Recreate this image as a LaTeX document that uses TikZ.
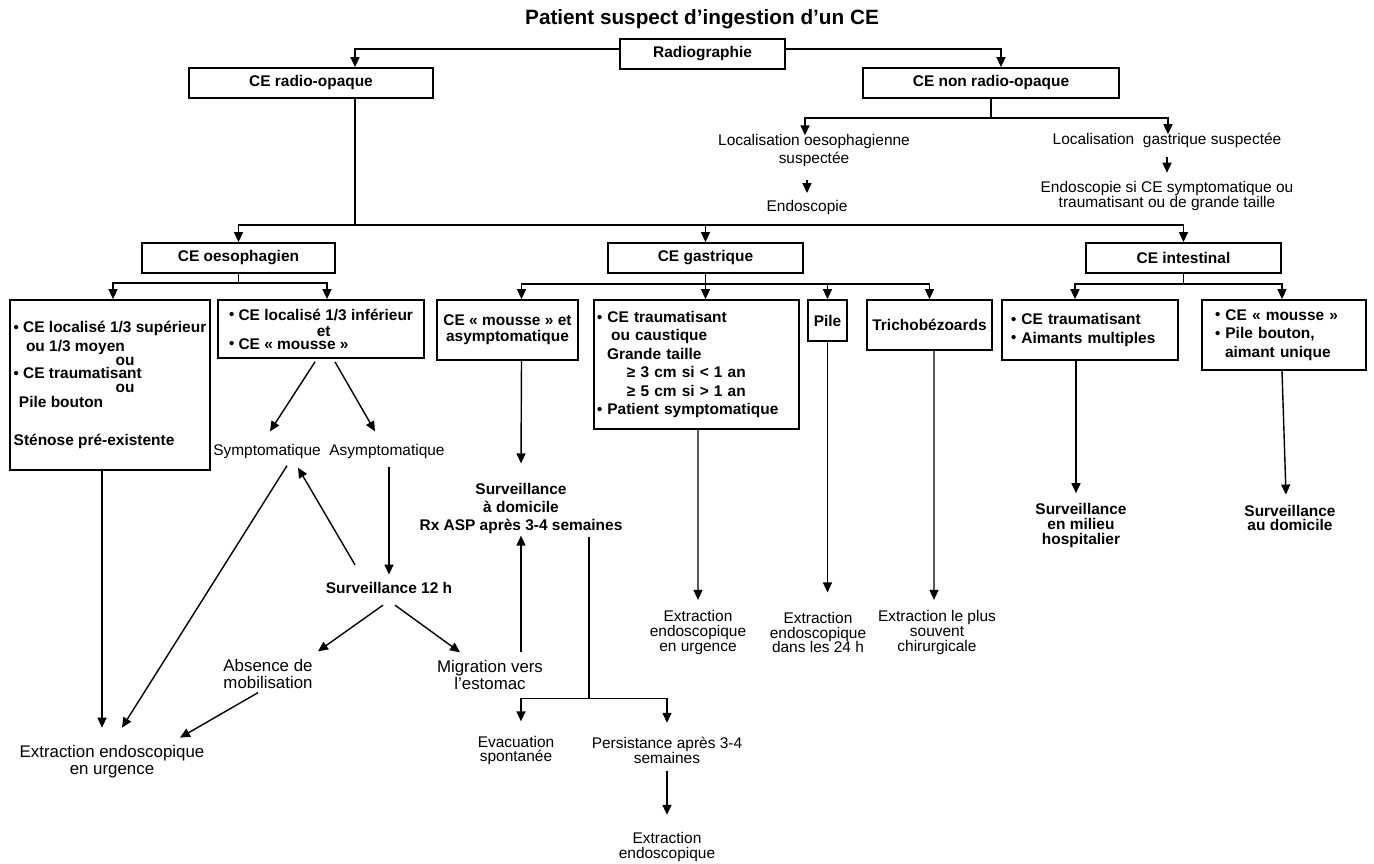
\documentclass[tikz,border=0pt]{standalone}
\usepackage{fontspec}
\setmainfont{Liberation Sans}
\usepackage{tikz}
\usetikzlibrary{arrows.meta,calc}

\newcommand\puce{{\fontsize{8.5}{8.5}\selectfont\raisebox{0.2pt}{•}}\ }

\begin{document}
\begin{tikzpicture}[
    x=0.02cm, y=-0.02cm, line width=0.8pt,
    box/.style={draw, line width=1pt, minimum height=0.6cm, inner sep=1pt, align=center, font=\fontsize{8.8}{10.5}\selectfont\bfseries},
    txt/.style={inner sep=1pt, align=center, font=\fontsize{8.8}{8.5}\selectfont},
    bigtxt/.style={txt, font=\fontsize{9.6}{9.7}\selectfont},
    btxt/.style={inner sep=1pt, align=center, font=\fontsize{8.8}{10.5}\selectfont\bfseries},
    titre/.style={inner sep=1pt, font=\fontsize{11.8}{13}\selectfont\bfseries},
    arrow/.style={-{Triangle[length=2mm, width=1.8mm]}, line width=0.8pt},
]
\useasboundingbox (0,0) rectangle (1374,864);

% --- Top ---
\node[titre] (titre) at (702,19) {Patient suspect d’ingestion d’un CE};
\node[box, minimum width=3.3cm] (radio) at (702.5,54) {Radiographie};
\node[box, minimum width=4.88cm] (opaque) at (311,83) {CE radio-opaque};
\node[box, minimum width=5.12cm] (nonopaque) at (991,83) {CE non radio-opaque};

\draw[arrow] ($(radio.west)+(0,-5)$) -| ($(opaque.north)+(44,0)$);
\draw[arrow] ($(radio.east)+(0,-5)$) -| ($(nonopaque.north)+(10,0)$);

% --- Non radio-opaque ---
\node[txt] (locoeso) at (814,150.5) {Localisation oesophagienne\\[2.3pt]suspectée};
\node[txt] (endo1) at (807,208) {Endoscopie};
\node[txt] (locgast) at (1167,140) {Localisation\ \ gastrique suspectée};
\node[txt] (endo2) at (1167,196) {Endoscopie si CE symptomatique ou\\traumatisant ou de grande taille};

\draw (nonopaque.south) -- ++(0,19) coordinate (bar2);
\draw[arrow] (bar2) -| ($(locoeso.north)+(-9,4)$);
\draw[arrow] (bar2) -| ($(locgast.north)+(1,4)$);
\draw[arrow, shorten <=6pt, shorten >=3pt] (locoeso.south -| endo1.north) -- (endo1.north);
\draw[arrow, shorten <=4pt, shorten >=3.5pt] (locgast.south -| endo2.north) -- (endo2.north);

% --- Level 2 ---
\node[box, minimum width=3.86cm] (oeso) at (238.5,258) {CE oesophagien};
\node[box, minimum width=3.9cm] (gastr) at (705.5,258) {CE gastrique};
\node[box, minimum width=3.9cm] (intest) at (1183.5,258) {CE intestinal};

\draw ($(opaque.south)+(44,0)$) -- ++(0,126) coordinate (bar1);
\draw[arrow] (bar1) -| (oeso.north);
\draw[arrow] (bar1) -| (intest.north);
\draw[arrow] (bar1 -| gastr.north) -- (gastr.north);

% --- CE oesophagien ---
\node[box, align=left, minimum width=4cm, minimum height=3.4cm] (haut) at (110,385) {%
  \puce CE localisé 1/3 supérieur\\
  \hspace*{7pt}ou 1/3 moyen\\[-2.6pt]
  \hspace*{58pt}ou\\[-2.6pt]
  \puce CE traumatisant\\[-2.6pt]
  \hspace*{58pt}ou\\[-2.1pt]
  \hspace*{3pt}Pile bouton\\[11pt]
  Sténose pré-existente};
\node[box, align=left, minimum width=4.12cm, minimum height=1.16cm] (bas) at (321,329) {%
  \puce CE localisé 1/3 inférieur\\[-1.4pt]
  \hspace*{50pt}et\\[-3.1pt]
  \puce CE «~mousse~»};

\draw (oeso.south) -- ++(0,9) coordinate (bar3);
\draw[arrow] (bar3) -| ($(haut.north)+(3,0)$);
\draw[arrow] (bar3) -| ($(bas.north)+(6,0)$);

\node[txt] (symp) at (267,452) {Symptomatique};
\node[txt] (asymp) at (387,452) {Asymptomatique};
\node[btxt] (surv12) at (389,588) {Surveillance 12 h};
\node[bigtxt] (absence) at (268,673.5) {Absence de\\mobilisation};
\node[bigtxt] (migr) at (490,674.5) {Migration vers\\l’estomac};
\node[bigtxt] (extrA) at (112,761.5) {Extraction endoscopique\\en urgence};

\draw[arrow] ($(bas.south)+(-6,3)$) -- ($(symp.north)+(3,-11)$);
\draw[arrow] ($(bas.south)+(14,3)$) -- ($(asymp.north)+(-12,-11)$);
\draw[arrow] ($(symp.south)+(20,4)$) -- ($(extrA.north)+(10,-15)$);
\draw[arrow] ($(surv12.north)+(-34,-15)$) -- ($(symp.south)+(31,6)$);
\draw[arrow, shorten <=3pt, shorten >=3pt] (asymp.south -| surv12.north) -- (surv12.north);
\draw[arrow] ($(surv12.south)+(-6,9)$) -- ($(absence.north)+(50,-5)$);
\draw[arrow] ($(surv12.south)+(6,9)$) -- ($(migr.north)+(-30,-5)$);
\draw[arrow] ($(absence.south)+(-10,2)$) -- ($(extrA.north)+(68,-5)$);
\draw[arrow] ($(haut.south)+(-8,0)$) -- ($(extrA.north)+(-10,-15)$);

% --- CE gastrique ---
\node[box, minimum width=2.82cm, minimum height=1.2cm] (mousse) at (507.5,330) {CE «~mousse~» et\\[-1.4pt]asymptomatique};
\node[box, align=left, text width=3.98cm, inner xsep=0.06cm, minimum height=2.58cm] (trauma) at (696.5,364.5) {%
  \puce CE traumatisant\\
  \hspace*{8pt}ou caustique\\
  \hspace*{5.7pt}Grande taille\\
  \hspace*{17pt}≥ 3 cm si < 1 an\\
  \hspace*{17pt}≥ 5 cm si > 1 an\\
  \puce Patient symptomatique};
\node[box, minimum width=0.78cm, minimum height=0.82cm] (pile) at (827.5,320.5) {Pile};
\node[box, minimum width=2.5cm, minimum height=1cm] (tricho) at (929.5,325) {Trichobézoards};

\draw (gastr.south) -- ++(0,10) coordinate (bar4);
\draw[arrow] (bar4) -| ($(mousse.north)+(14,0)$);
\draw[arrow] (bar4) -- (bar4 |- trauma.north);
\draw[arrow] (bar4) -| (pile.north);
\draw[arrow] (bar4) -| (tricho.north);

\node[btxt] (survdom) at (521,508.5) {Surveillance\\à domicile\\Rx ASP après 3-4 semaines};
\node[txt] (evac) at (516,750.5) {Evacuation\\spontanée};
\node[txt] (pers) at (667,750.5) {Persistance après 3-4\\semaines};
\node[txt] (extrB) at (667,847) {Extraction\\endoscopique};
\node[txt] (extrG) at (698,632.5) {Extraction\\endoscopique\\en urgence};
\node[txt] (extrP) at (818,632.5) {Extraction\\endoscopique\\dans les 24 h};
\node[txt] (extrT) at (937,632.5) {Extraction le plus\\souvent\\chirurgicale};

\draw[arrow] ($(mousse.south)+(14,0)$) -- ($(survdom.north)+(0,-17)$);
\draw[arrow] ($(migr.north)+(31,-5)$) -- ($(survdom.south)+(0,-1)$);
\draw ($(survdom.south)+(68,0)$) -- ++(0,162) coordinate (bar5);
\draw[arrow] (bar5) -| ($(evac.north)+(5,-12)$);
\draw[arrow] (bar5) -| ($(pers.north)+(0,-12)$);
\draw[arrow] ($(pers.south)+(0,5)$) -- ($(extrB.north)+(0,-15)$);
\draw[arrow] ($(trauma.south)+(1.5,0)$) -- ($(extrG.north)+(0,-8)$);
\draw[arrow] (pile.south) -- ($(extrP.north)+(9.5,-17)$);
\draw[arrow] ($(tricho.south)+(4.5,0)$) -- ($(extrT.north)+(-3,-8)$);

% --- CE intestinal ---
\node[box, align=left, text width=3.16cm, inner xsep=0.18cm, minimum height=1.2cm] (intA) at (1090,330) {%
  \puce CE traumatisant\\
  \puce Aimants multiples};
\node[box, align=left, text width=2.76cm, inner xsep=0.26cm, minimum height=1.4cm] (intB) at (1284,335) {%
  \puce CE «~mousse~»\\
  \puce Pile bouton,\\
  \hspace*{5.7pt}aimant unique};
\node[btxt] (hosp) at (1081,525.5) {Surveillance\\[-2.2pt]en milieu\\[-2.2pt]hospitalier};
\node[btxt] (au) at (1290,518) {Surveillance\\[-2.2pt]au domicile};

\draw (intest.south) -- ++(0,10) coordinate (bar6);
\draw[arrow] (bar6) -| ($(intA.north)+(-15,0)$);
\draw[arrow] (bar6) -| ($(intB.north)+(-2,0)$);
\draw[arrow] ($(intA.south)+(-14,0)$) -- ($(hosp.north)+(-5,-8)$);
\draw[arrow] ($(intB.south)+(-2,0)$) -- ($(au.north)+(-4,-8)$);

\end{tikzpicture}
\end{document}
